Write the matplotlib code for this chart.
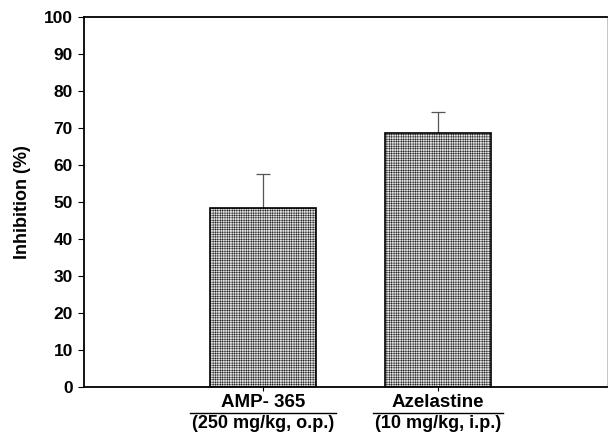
import matplotlib
matplotlib.use("Agg")
import matplotlib.pyplot as plt
from matplotlib.transforms import blended_transform_factory
from matplotlib.lines import Line2D

plt.rcParams['font.family'] = ['Liberation Sans', 'DejaVu Sans']
plt.rcParams['hatch.color'] = '#c2c2c2'
plt.rcParams['hatch.linewidth'] = 0.3

categories = ["AMP- 365", "Azelastine"]
doses = ["(250 mg/kg, o.p.)", "(10 mg/kg, i.p.)"]
values = [48.5, 68.6]
errors = [9.0, 5.7]
yticks = [0, 10, 20, 30, 40, 50, 60, 70, 80, 90, 100]

fig = plt.figure(figsize=(6.08, 4.37), dpi=100)
ax = fig.add_axes([84/608, 1-387/437, 523/608, 370/437])

x = [1, 2]
ax.bar(x, values, width=0.606, color='#e4e4e4', edgecolor='black', linewidth=1.2,
       hatch='+++++++', zorder=2)
ax.errorbar(x, values, yerr=[[0, 0], errors], fmt='none', ecolor='#555555',
            elinewidth=0.9, capsize=5, capthick=0.9, zorder=1)

ax.set_xlim(-0.023, 2.966)
ax.set_ylim(0, 100)
ax.set_yticks(yticks)
ax.set_yticklabels([str(v) for v in yticks], fontsize=12.5, fontweight='bold')
ax.set_xticks(x)
ax.set_xticklabels([])
ax.tick_params(axis='y', direction='out', length=4, width=0.8, pad=4)
ax.tick_params(axis='x', direction='out', length=3, width=0.8)
for s in ['left', 'bottom', 'top']:
    ax.spines[s].set_linewidth(1.3)
ax.spines['right'].set_linewidth(0.6)
ax.spines['right'].set_color('#bbbbbb')
ax.set_ylabel("Inhibition (%)", fontsize=13, fontweight='bold', labelpad=9)

trans = blended_transform_factory(ax.transData, ax.transAxes)
fig.canvas.draw()
r = fig.canvas.get_renderer()
inv = ax.transData.inverted()
for xi, name, dose in zip(x, categories, doses):
    t1 = ax.text(xi, -0.02, name, transform=trans, ha='center', va='top',
                 fontsize=13.5, fontweight='bold')
    t2 = ax.text(xi, -0.077, dose, transform=trans, ha='center', va='top',
                 fontsize=13, fontweight='bold')
    bb = t2.get_window_extent(renderer=r)
    x0 = inv.transform((bb.x0 - 2, 0))[0]
    x1 = inv.transform((bb.x1 + 2, 0))[0]
    ax.add_line(Line2D([x0, x1], [-0.071, -0.071], transform=trans, color='black',
                       linewidth=1.0, clip_on=False))

fig.savefig("out.png", dpi=100)
